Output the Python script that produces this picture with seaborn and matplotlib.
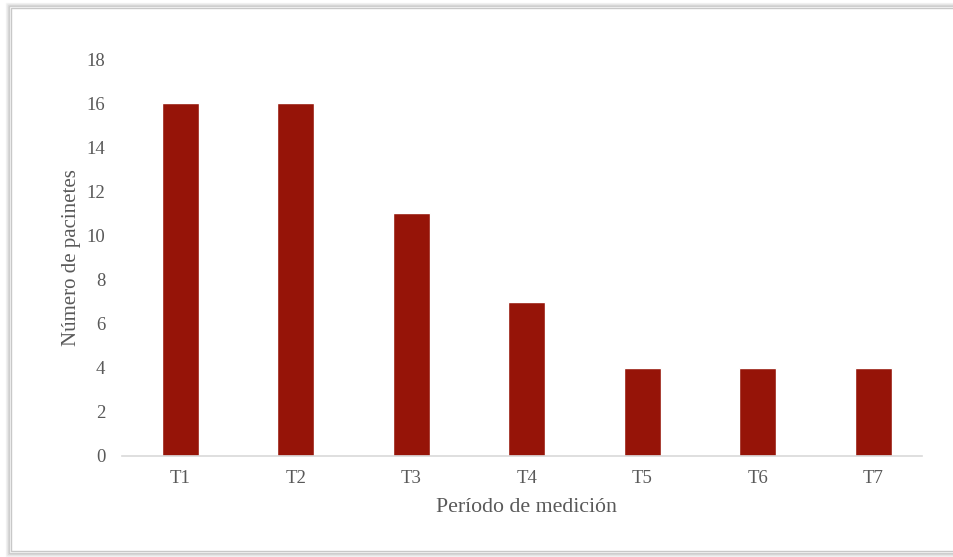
import matplotlib
matplotlib.use("Agg")
import matplotlib.pyplot as plt
import seaborn as sns
import pandas as pd
from matplotlib.patches import Rectangle

periods = ["T1", "T2", "T3", "T4", "T5", "T6", "T7"]
patients = [16, 16, 11, 7, 4, 4, 4]
y_ticks = [0, 2, 4, 6, 8, 10, 12, 14, 16, 18]

df = pd.DataFrame({"Período": periods, "Pacientes": patients})

sns.set_theme(style="white")
plt.rcParams["font.family"] = ["Liberation Serif", "DejaVu Serif"]

W, H = 954, 557
fig = plt.figure(figsize=(W / 100, H / 100), dpi=100)
fig.patch.set_facecolor("white")

# soft shadowed frame around the chart area, kept behind the axes
for i, a in enumerate([0.10, 0.18, 0.30, 0.45]):
    off = (3 - i)
    fig.add_artist(Rectangle(((9 - off) / W, (4 - off) / H),
                             (W + 20) / W, (H - 10 + 2 * off) / H,
                             transform=fig.transFigure, fill=False,
                             edgecolor="#9a9a9a", linewidth=1.0, alpha=a,
                             zorder=-10))
fig.add_artist(Rectangle((11 / W, 6 / H), (W + 20) / W, (H - 14) / H,
                         transform=fig.transFigure, fill=True,
                         facecolor="white", edgecolor="#c8c8c8", linewidth=1.0,
                         zorder=-9))

ax_left, ax_right = 122.5, 931.0
ax = fig.add_axes([ax_left / W, 1 - 456 / H, (ax_right - ax_left) / W, (456 - 59) / H])
ax.set_facecolor("none")

sns.barplot(data=df, x="Período", y="Pacientes", color="#961408",
            saturation=1, width=0.32, ax=ax)

ax.set_ylim(0, 18)
ax.set_xlim(-0.5, len(periods) - 0.5)
ax.set_yticks(y_ticks)
ax.set_yticklabels([str(v) for v in y_ticks])

for side in ["top", "right", "left"]:
    ax.spines[side].set_visible(False)
ax.spines["bottom"].set_color("#d9d9d9")
ax.spines["bottom"].set_linewidth(1.2)
ax.spines["bottom"].set_bounds(-0.5, len(periods) - 0.58)

ax.tick_params(axis="both", length=0, labelsize=13.5, colors="#595959")
ax.tick_params(axis="y", pad=12.5)
ax.tick_params(axis="x", pad=10)

ax.set_xlabel("Período de medición", fontsize=15.7, color="#595959", labelpad=8)
ax.set_ylabel("Número de pacinetes", fontsize=15, color="#595959", labelpad=4)

fig.savefig("out.png", dpi=100, facecolor="white")
